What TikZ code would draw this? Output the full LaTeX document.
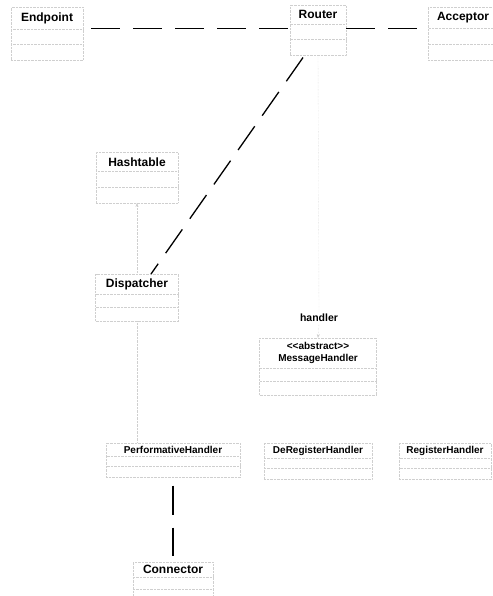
\documentclass[tikz,border=0pt]{standalone}
\usepackage{fontspec}
\setmainfont{Liberation Sans}
\usetikzlibrary{shapes.multipart, arrows.meta, calc}
\definecolor{faintgray}{HTML}{CFCFCF}

\begin{document}
\begin{tikzpicture}[x=1pt, y=-1pt,
	umlclass/.style={rectangle split, rectangle split parts=3,
		rectangle split empty part height=0pt, draw=faintgray, densely dotted,
		inner xsep=4pt, inner ysep=5pt, align=center,
		font=\fontsize{12}{14}\selectfont\bfseries},
	smallclass/.style={umlclass, inner ysep=3pt, font=\fontsize{10}{12}\selectfont\bfseries},
	assoc/.style={line width=1.3pt, dash pattern=on 29pt off 13pt},
	faintlink/.style={draw=faintgray, densely dotted}]
	\useasboundingbox (0,0) rectangle (492,596);

	% top row
	\node[umlclass, minimum width=72pt, anchor=north] (endpoint) at (47,7) {Endpoint};
	\node[umlclass, minimum width=56pt, anchor=north] (router) at (318,5) {Router};
	\node[umlclass, minimum width=70pt, anchor=north] (acceptor) at (463,7) {Acceptor};

	% left column
	\node[umlclass, minimum width=82pt, anchor=north] (hash) at (137,152) {Hashtable};
	\node[umlclass, inner ysep=4pt, minimum width=83pt, anchor=north] (disp) at (137,274) {Dispatcher};

	% handlers
	\node[font=\fontsize{10.5}{12}\selectfont\bfseries, inner sep=2pt] (role) at (319,318) {handler};
	\node[smallclass, inner ysep=4pt, minimum width=117pt, anchor=north] (msg) at (318,338)
		{<\kern0pt<abstract>\kern0pt>\\MessageHandler};
	\node[smallclass, inner ysep=2.5pt, minimum width=134pt, anchor=north] (perf) at (173,443) {PerformativeHandler};
	\node[smallclass, inner ysep=2.5pt, minimum width=108pt, anchor=north] (dereg) at (318,443) {DeRegisterHandler};
	\node[smallclass, inner ysep=2.5pt, minimum width=92pt, anchor=north] (reg) at (445,443) {RegisterHandler};
	\node[umlclass, inner ysep=3pt, minimum width=80pt, anchor=north] (conn) at (173,562) {Connector};

	% associations
	\draw[assoc] ($(endpoint.text split east)+(8,0)$) -- (endpoint.text split east -| router.west);
	\draw[assoc] (router.east |- endpoint.text split east) -- (endpoint.text split east -| acceptor.west);
	\draw[assoc] ($(router.south)+(-15,2)$) -- ($(disp.north)+(14,0)$);
	\draw[assoc, shorten <=8pt, shorten >=6pt] (perf.south) -- (conn.north);

	% faint links
	\draw[faintlink, -{Stealth[length=4pt]}] (disp.north) -- (hash.south);
	\draw[faintlink] (disp.south) -- (disp.south |- perf.north);
	\draw[faintlink] (router.south) -- (role.north);
	\draw[faintlink, -{Stealth[length=4pt]}] (role.south) -- (msg.north);
\end{tikzpicture}
\end{document}
